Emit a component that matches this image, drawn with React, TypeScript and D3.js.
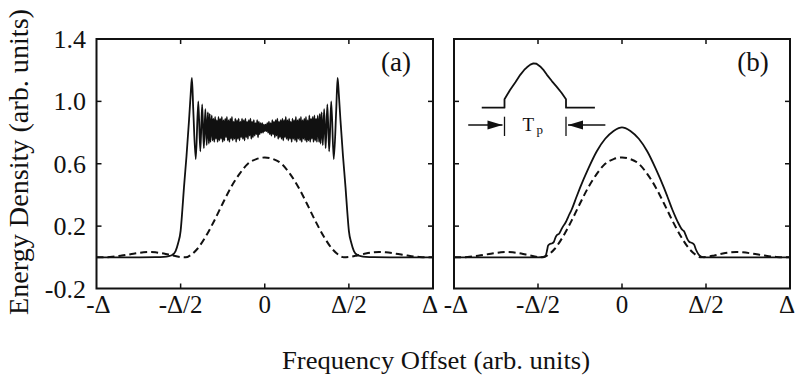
import React from "react";
import * as d3 from "d3";

// ---- data (frequency offset in units of Δ, energy density in arb. units) ----

// unchirped reference spectrum (dashed), same in both panels
const refX = [-1, -0.96, -0.92, -0.85, -0.78, -0.72, -0.68, -0.65, -0.6, -0.55, -0.5, -0.47, -0.44, -0.4, -0.35, -0.3, -0.25, -0.2, -0.15, -0.1, -0.05, 0,
  0.05, 0.1, 0.15, 0.2, 0.25, 0.3, 0.35, 0.4, 0.44, 0.47, 0.5, 0.55, 0.6, 0.65, 0.68, 0.72, 0.78, 0.85, 0.92, 0.96, 1];
const refY = [0, 0, 0.002, 0.011, 0.023, 0.032, 0.034, 0.032, 0.024, 0.012, 0.002, 0, 0.015, 0.055, 0.135, 0.235, 0.345, 0.45, 0.535, 0.6, 0.63, 0.64,
  0.63, 0.6, 0.535, 0.45, 0.345, 0.235, 0.135, 0.055, 0.015, 0, 0.002, 0.012, 0.024, 0.032, 0.034, 0.032, 0.023, 0.011, 0.002, 0, 0];

// panel (a): spectrum with strong ripple — outer flanks
const aLeftX = [-1, -0.8, -0.65, -0.6, -0.57, -0.55, -0.53, -0.515, -0.5, -0.49, -0.48, -0.465, -0.45, -0.44, -0.433, -0.425, -0.41,
  -0.395, -0.383, -0.372, -0.362, -0.353, -0.345, -0.338, -0.332, -0.327, -0.323];
const aLeftY = [0, 0, 0.001, 0.003, 0.008, 0.015, 0.04, 0.09, 0.17, 0.3, 0.45, 0.65, 0.88, 1.05, 1.15, 0.95, 0.63,
  1.0, 0.68, 0.98, 0.7, 0.95, 0.72, 0.93, 0.73, 0.92, 0.74];
const aRightX = [0.323, 0.327, 0.332, 0.338, 0.345, 0.353, 0.362, 0.372, 0.383, 0.395, 0.41, 0.425, 0.433, 0.44, 0.45, 0.465, 0.48,
  0.49, 0.5, 0.515, 0.53, 0.55, 0.57, 0.6, 0.65, 0.8, 1];
const aRightY = [0.74, 0.92, 0.73, 0.93, 0.72, 0.95, 0.7, 0.98, 0.68, 1.0, 0.63, 0.95, 1.15, 1.05, 0.88, 0.65, 0.45,
  0.3, 0.17, 0.09, 0.04, 0.015, 0.008, 0.003, 0.001, 0, 0];

// panel (a): fast ripple in the centre, sampled every 0.005 Δ from -0.315 Δ
const bandStart = -0.315;
const bandStep = 0.005;
const bandY = [
  0.91, 0.75, 0.89, 0.74, 0.90, 0.76, 0.88, 0.74, 0.90, 0.75,
  0.89, 0.76, 0.90, 0.74, 0.88, 0.75, 0.89, 0.77, 0.90, 0.75,
  0.88, 0.74, 0.89, 0.76, 0.90, 0.75, 0.87, 0.76, 0.89, 0.74,
  0.88, 0.76, 0.89, 0.75, 0.87, 0.77, 0.89, 0.76, 0.88, 0.75,
  0.89, 0.77, 0.87, 0.76, 0.88, 0.78, 0.89, 0.76, 0.87, 0.77,
  0.88, 0.78, 0.86, 0.79, 0.88, 0.77, 0.87, 0.79, 0.86, 0.80,
  0.86, 0.80, 0.85, 0.81,
  0.85, 0.81, 0.86, 0.80, 0.87, 0.79, 0.86, 0.78, 0.88, 0.79,
  0.87, 0.77, 0.88, 0.78, 0.89, 0.76, 0.87, 0.77, 0.88, 0.76,
  0.89, 0.75, 0.88, 0.77, 0.90, 0.76, 0.88, 0.75, 0.89, 0.76,
  0.87, 0.74, 0.89, 0.76, 0.88, 0.75, 0.90, 0.74, 0.88, 0.76,
  0.89, 0.75, 0.90, 0.74, 0.88, 0.76, 0.89, 0.75, 0.90, 0.74,
  0.88, 0.75, 0.91, 0.74, 0.89, 0.76, 0.90, 0.74, 0.91, 0.75,
  0.89, 0.74, 0.91,
];

// panel (b): spectrum with shaped pulse (solid)
const bX = [-1, -0.7, -0.5, -0.47, -0.455, -0.445, -0.44, -0.43, -0.415, -0.405, -0.395, -0.385, -0.375, -0.365, -0.35, -0.34, -0.33, -0.32, -0.3, -0.27, -0.25, -0.2, -0.15, -0.1, -0.05, -0.02, 0,
  0.02, 0.05, 0.1, 0.15, 0.2, 0.25, 0.27, 0.3, 0.32, 0.335, 0.35, 0.36, 0.37, 0.38, 0.39, 0.4, 0.41, 0.42, 0.43, 0.44, 0.455, 0.47, 0.49, 0.7, 1];
const bY = [0, 0, 0, 0.002, 0.01, 0.05, 0.075, 0.085, 0.09, 0.1, 0.13, 0.145, 0.15, 0.17, 0.2, 0.215, 0.235, 0.26, 0.305, 0.39, 0.445, 0.57, 0.68, 0.76, 0.81, 0.828, 0.833,
  0.828, 0.81, 0.76, 0.68, 0.57, 0.445, 0.39, 0.305, 0.255, 0.22, 0.19, 0.175, 0.165, 0.14, 0.115, 0.1, 0.095, 0.09, 0.08, 0.05, 0.02, 0.005, 0, 0, 0];

// inset: temporal pulse shape (time in units of Tp, amplitude normalised)
const pulseT = [-0.87, -0.5, -0.5, -0.41, -0.32, -0.244, -0.18, -0.135, -0.08, -0.03, 0.02, 0.08, 0.14, 0.19, 0.27, 0.35, 0.43, 0.5, 0.5, 0.97];
const pulseA = [0, 0, 0.19, 0.4, 0.58, 0.74, 0.85, 0.91, 0.97, 1.0, 0.99, 0.93, 0.84, 0.74, 0.6, 0.47, 0.33, 0.19, 0, 0];

// axes
const yTicks = [1.4, 1.0, 0.6, 0.2, -0.2];
const yTickLabels = ["1.4", "1.0", "0.6", "0.2", "-0.2"];
const yInnerTicks = [1.0, 0.6, 0.2];
const xTicks = [-1, -0.5, 0, 0.5, 1];
const xTickLabels = ["-Δ", "-Δ/2", "0", "Δ/2", "Δ"];
const xInnerTicks = [-0.5, 0, 0.5];

const FONT = "'Liberation Serif', 'Times New Roman', serif";
const INK = "#111";

type Pt = [number, number];
const zip = (xs: number[], ys: number[]): Pt[] => xs.map((x, i) => [x, ys[i]] as Pt);

const curveA: Pt[] = [
  ...zip(aLeftX, aLeftY),
  ...bandY.map((v, i) => [bandStart + i * bandStep, v] as Pt),
  ...zip(aRightX, aRightY),
];
const refPts = zip(refX, refY);
const curveB = zip(bX, bY);

const y = d3.scaleLinear().domain([-0.2, 1.4]).range([288.5, 39]);

function Panel({ x0, x1, solid, label, showY }: { x0: number; x1: number; solid: Pt[]; label: string; showY: boolean }) {
  const x = d3.scaleLinear().domain([-1, 1]).range([x0, x1]);
  const line = d3.line<Pt>().x((d) => x(d[0])).y((d) => y(d[1])).curve(d3.curveMonotoneX);
  const tick = 5;
  // keep the end labels clear of the neighbouring panel and the page edge
  const labelX = (t: number) => {
    if (t === -1) return x(t) + 2;
    if (t === 1) return Math.min(x(t) - 3, 787);
    return x(t);
  };
  return (
    <g>
      <path d={line(refPts) ?? ""} fill="none" stroke={INK} strokeWidth={2} strokeDasharray="7,4" />
      <path d={line(solid) ?? ""} fill="none" stroke={INK} strokeWidth={1.8} strokeLinejoin="round" />
      <rect x={x0} y={y(1.4)} width={x1 - x0} height={y(-0.2) - y(1.4)} fill="none" stroke={INK} strokeWidth={2} />
      {yInnerTicks.map((t) => (
        <g key={"y" + t}>
          <line x1={x0} x2={x0 + tick} y1={y(t)} y2={y(t)} stroke={INK} strokeWidth={1.5} />
          <line x1={x1} x2={x1 - tick} y1={y(t)} y2={y(t)} stroke={INK} strokeWidth={1.5} />
        </g>
      ))}
      {xInnerTicks.map((t) => (
        <g key={"x" + t}>
          <line x1={x(t)} x2={x(t)} y1={y(-0.2)} y2={y(-0.2) - tick} stroke={INK} strokeWidth={1.5} />
          <line x1={x(t)} x2={x(t)} y1={y(1.4)} y2={y(1.4) + tick} stroke={INK} strokeWidth={1.5} />
        </g>
      ))}
      {xTicks.map((t, i) => (
        <text key={"xl" + t} x={labelX(t)} y={313} textAnchor="middle" fontSize={25} fontFamily={FONT} fill={INK}>
          {xTickLabels[i]}
        </text>
      ))}
      {showY &&
        yTicks.map((t, i) => (
          <text key={"yl" + t} x={86} y={y(t) + 9} textAnchor="end" fontSize={26} fontFamily={FONT} fill={INK}>
            {yTickLabels[i]}
          </text>
        ))}
      <text x={x1 - 37} y={71} textAnchor="middle" fontSize={27} fontFamily={FONT} fill={INK}>
        {label}
      </text>
    </g>
  );
}

function PulseInset() {
  const tx = d3.scaleLinear().domain([-0.5, 0.5]).range([504.5, 566]);
  const ty = d3.scaleLinear().domain([0, 1]).range([107.7, 63.3]);
  const line = d3.line<number>().x((_, i) => tx(pulseT[i])).y((a) => ty(a));
  const arrowY = 125;
  const barTop = 116.7;
  const barBot = 136;
  const head = 15;
  const half = 4.5;
  const l = tx(-0.5);
  const r = tx(0.5);
  return (
    <g stroke={INK} fill="none">
      <path d={line(pulseA) ?? ""} strokeWidth={1.8} strokeLinejoin="round" />
      <line x1={l} x2={l} y1={barTop} y2={barBot} strokeWidth={1.3} />
      <line x1={r} x2={r} y1={barTop} y2={barBot} strokeWidth={1.3} />
      <line x1={tx(-1.09)} x2={l - 2} y1={arrowY} y2={arrowY} strokeWidth={1.6} />
      <path d={`M${l - 2},${arrowY} L${l - 2 - head},${arrowY - half} L${l - 2 - head},${arrowY + half} Z`} fill={INK} stroke="none" />
      <line x1={tx(1.14)} x2={r + 2} y1={arrowY} y2={arrowY} strokeWidth={1.6} />
      <path d={`M${r + 2},${arrowY} L${r + 2 + head},${arrowY - half} L${r + 2 + head},${arrowY + half} Z`} fill={INK} stroke="none" />
      <text x={tx(-0.02)} y={131} textAnchor="end" fontSize={19} fontFamily={FONT} fill={INK} stroke="none">
        T
      </text>
      <text x={tx(0.02)} y={134} textAnchor="start" fontSize={13} fontFamily={FONT} fill={INK} stroke="none">
        p
      </text>
    </g>
  );
}

export default function App() {
  return (
    <svg width={796} height={376} viewBox="0 0 796 376" style={{ display: "block", position: "absolute", left: 0, top: 0, background: "#fff" }}>
      <rect x={0} y={0} width={796} height={376} fill="#fff" />
      <Panel x0={96.5} x1={433} solid={curveA} label="(a)" showY={true} />
      <Panel x0={454} x1={790} solid={curveB} label="(b)" showY={false} />
      <PulseInset />
      <text
        transform="translate(28,162) rotate(-90)"
        textAnchor="middle"
        fontSize={27}
        fontFamily={FONT}
        fill={INK}
        textLength={306}
        lengthAdjust="spacingAndGlyphs"
      >
        Energy Density (arb. units)
      </text>
      <text x={436} y={369} textAnchor="middle" fontSize={25} fontFamily={FONT} fill={INK} textLength={308} lengthAdjust="spacingAndGlyphs">
        Frequency Offset (arb. units)
      </text>
    </svg>
  );
}
